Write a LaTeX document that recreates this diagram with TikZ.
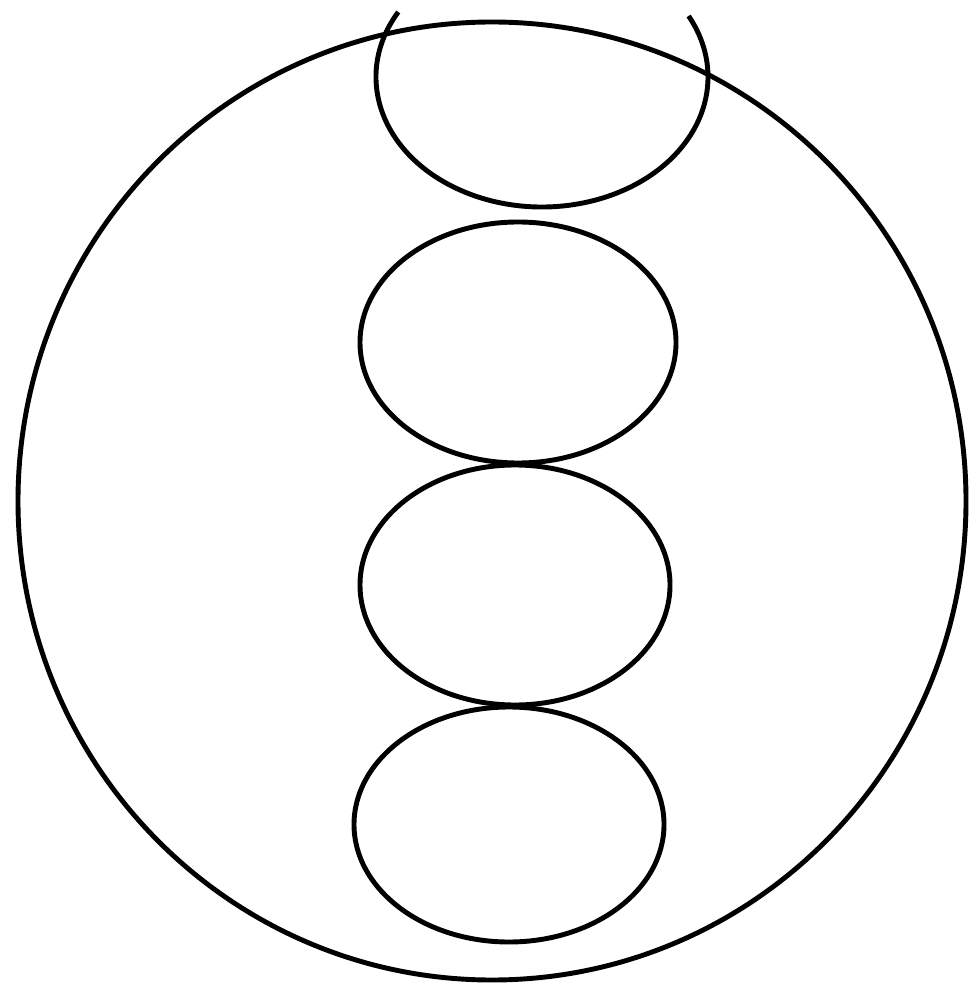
\documentclass[tikz,border=0pt]{standalone}
\usepackage{tikz}
\tikzset{
  outline/.style={draw=black,line width=1.4pt},
}
\begin{document}
\begin{tikzpicture}
  \useasboundingbox (0,0) rectangle (9.72,-9.85);
  % outer circle
  \draw[outline] (4.92,-5.01) ellipse [x radius=4.74,y radius=4.79];
  % top cell, cut off by the frame
  \draw[outline] (5.42,-0.77) ++(150:1.66 and 1.30) arc [start angle=150,end angle=388,x radius=1.66,y radius=1.30];
  % stacked cells
  \foreach \cx/\cy/\rx/\ry in {5.18/-3.425/1.58/1.205, 5.15/-5.85/1.55/1.20, 5.09/-8.245/1.55/1.175} {
    \draw[outline] (\cx,\cy) ellipse [x radius=\rx,y radius=\ry];
  }
\end{tikzpicture}
\end{document}
